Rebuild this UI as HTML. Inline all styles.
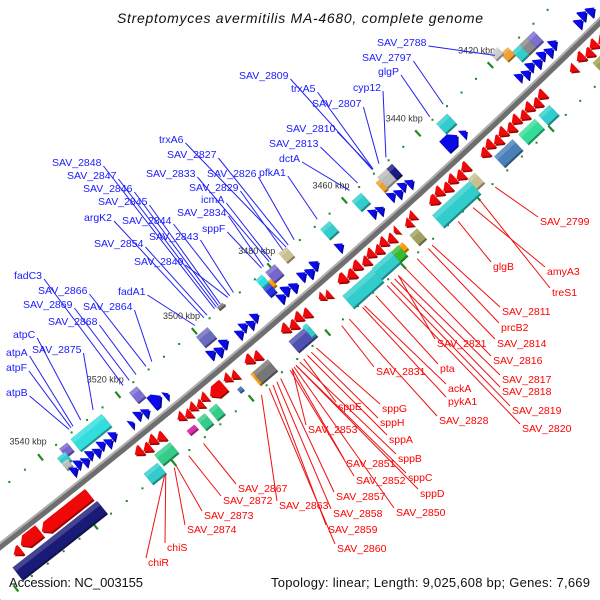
<!DOCTYPE html>
<html><head><meta charset="utf-8"><style>
html,body{margin:0;padding:0;background:#fff;}
svg{display:block;font-family:"Liberation Sans",sans-serif;}
</style></head><body>
<svg id="map" width="600" height="600" viewBox="0 0 600 600" xmlns="http://www.w3.org/2000/svg">
<rect width="600" height="600" fill="#fff"/>
<text x="300" y="23" text-anchor="middle" font-size="14" font-style="italic" fill="#111" textLength="366">Streptomyces avermitilis MA-4680, complete genome</text>
<g id="g-backbone"></g>
<g id="g-ticks"></g>
<g id="g-feat"></g>
<g id="g-lab"></g>
<text x="9" y="587" font-size="13" fill="#111" textLength="134">Accession: NC_003155</text>
<text x="590" y="587" text-anchor="end" font-size="13" fill="#111" textLength="319">Topology: linear; Length: 9,025,608 bp; Genes: 7,669</text>
</svg>
<script>
// ---- data (kbp) ----
const kbpTicks = [3420,3440,3460,3480,3500,3520,3540];
const blueArrowStart = [3397,3398.7,3400.4,3407,3408.6,3410.2,3411.8,3413.4,3415,3416.6,3432.5,3434.5,3447,3448.5,3450,3451.5,3455,3456.5,3466,3472,3473.7,3475.4,3478,3479.7,3481.4,3488,3489.5,3491,3492.5,3496,3497.7,3499.4,3512,3513.5,3517,3518.5,3521,3525,3526.5,3528,3529.5,3531,3532.5,3534,3535.5];
const blueArrowEnd   = [3398.7,3400.4,3402,3408.6,3410.2,3411.8,3413.4,3415,3416.6,3418,3433.8,3438,3448.5,3450,3451.5,3453,3456.5,3458,3467.5,3473.7,3475.4,3477,3479.7,3481.4,3483,3489.5,3491,3492.5,3494,3497.7,3499.4,3501,3513,3516,3518.5,3520,3522,3526.5,3528,3529.5,3531,3532.5,3534,3535.5,3537];
const redArrowStart = [3398,3399.8,3401.6,3403.4,3405.2,3408,3416,3417.8,3419.6,3421.4,3423.2,3425,3426.8,3428.6,3430.4,3432.2,3437,3438.8,3440.6,3442.4,3444.2,3446,3451.5,3453,3456,3457.5,3459.2,3460.9,3462.6,3464.3,3466.2,3468.1,3470,3474.5,3475.8,3480,3481.75,3483.5,3485.25,3493,3494.7,3499,3500.5,3502.5,3506.5,3508,3509.5,3511,3512.5,3518,3519.75,3521.5,3523.25,3537,3549.3,3554.5];
const redArrowEnd   = [3399.8,3401.6,3403.4,3405.2,3407,3409.5,3417.8,3419.6,3421.4,3423.2,3425,3426.8,3428.6,3430.4,3432.2,3434,3438.8,3440.6,3442.4,3444.2,3446,3448,3453,3454.5,3457,3459.2,3460.9,3462.6,3464.3,3466,3468.1,3470,3472,3475.8,3477,3481.75,3483.5,3485.25,3487,3494.7,3496.5,3500.5,3502,3506,3508,3509.5,3511,3512.5,3514,3519.75,3521.5,3523.25,3525,3549,3554,3556.3];
const boxStart = [3409,3411,3413,3415,3416.5,3433,3448,3449.5,3452,3456.5,3465,3475,3479,3481.5,3482.3,3482.3,3492,3497.5,3516,3525,3534,3535.5,3536,
                  3402,3417,3421,3427,3437,3439,3453,3457,3458,3460,3465,3482,3482,3492.5,3496.5,3500,3506,3509,3512,3518,3522.5,3536.6,3549.4];
const boxEnd   = [3411,3413,3415,3417,3418.5,3436,3449.5,3452,3453,3459,3467.5,3477,3481.5,3482.3,3484,3484,3493.5,3500.5,3518,3533,3536,3537.5,3537.5,
                  3405,3420,3425.5,3432,3439,3449,3455,3458,3460,3465,3473,3487,3483,3497,3497,3501,3508,3511,3514,3522,3526,3549.4,3558];
const boxTrack = [-32,-32,-32,-40,-48,-32,-32,-32,-30,-32,-32,-42,-36,-30,-26,-38,-46,-32,-32,-32,-34,-28,-22,
                  32,32,32,32,30,34,32,30,32,32,34,32,30,32,32,30,32,32,30,32,40,33,33];
const boxColor = ['#7b6fd0','#8a8a8a','#33cccc','#f0a030','#cccccc','#33cccc','#1a1a80','#bbbbbb','#f0a030','#33cccc','#33cccc','#c8c090','#7766cc','#ff9900','#2233dd','#33dddd','#888888','#6a6abf','#7b6fd0','#33dddd','#7766cc','#33cccc','#bbbbbb',
                  '#a0a050','#33cccc','#33dd99','#4a80b8','#c8c090','#33cccc','#a0a060','#ff9900','#33bb33','#33cccc','#33cccc','#5050b0','#33cccc','#777777','#ff9900','#4a80b8','#33cc88','#33cc88','#dd33aa','#33cc88','#33cccc','#1a1a78','#1a1a78'];
const boxHeight = [13,13,13,10,8,13,14,14,12,13,13,12,13,8,10,10,3,13,13,15,10,10,8,
                   13,13,13,14,13,16,13,8,13,14,16,14,14,14,14,4,13,13,5,13,13,15,15];
const blueLabelText = ['SAV_2788','SAV_2797','glgP','SAV_2809','trxA5','cyp12','SAV_2807','SAV_2810','SAV_2813','dctA','pfkA1','SAV_2826','trxA6','SAV_2827','SAV_2833','SAV_2829','icmA','SAV_2834','sppF','SAV_2848','SAV_2847','SAV_2846','SAV_2845','argK2','SAV_2844','SAV_2843','SAV_2854','SAV_2849','fadC3','SAV_2866','fadA1','SAV_2869','SAV_2864','SAV_2868','atpC','SAV_2875','atpA','atpF','atpB'];
const blueLabelKbp  = [3418,3432.3,3436,3451.7,3451.5,3448,3449.9,3451.5,3455.7,3457.9,3466.6,3472.8,3475,3474.4,3479.5,3475.9,3479,3481,3481.5,3494,3493.5,3493,3492.5,3496.8,3490,3489,3496,3490.5,3518,3512,3499.2,3516.4,3510.5,3514.6,3529,3525.8,3531,3531.5,3532];
const redLabelText = ['SAV_2799','glgB','amyA3','treS1','SAV_2811','prcB2','SAV_2814','SAV_2821','SAV_2816','pta','SAV_2831','SAV_2817','ackA','SAV_2818','pykA1','SAV_2819','SAV_2828','SAV_2820','sppE','sppG','sppH','SAV_2853','sppA','SAV_2851','sppB','sppC','SAV_2852','sppD','SAV_2857','SAV_2863','SAV_2850','SAV_2858','SAV_2859','SAV_2860','SAV_2867','SAV_2872','SAV_2873','SAV_2874','chiS','chiR'];
const redLabelKbp  = [3436,3446,3442,3440,3453,3454,3457,3462,3460,3468,3477,3462,3471,3463,3471.5,3464,3475,3465,3487,3483.7,3485,3490,3486,3490,3488,3489,3490.5,3489,3493,3498,3489.5,3494,3495,3496,3513,3516.8,3520,3520.5,3522.7,3523];
// ---- layout (label text placement, px) ----
const blueLabelPos = [[377,42],[362,57],[378,71],[239,75],[291,88],[353,87],[312,103],[286,128],[269,143],[279,158],[259,172],[207,173],[159,139],[167,154],[146,173],[189,187],[201,199],[177,212],[202,228],[52,162],[67,175],[83,188],[98,201],[84,217],[122,220],[149,236],[94,243],[134,261],[14,275],[38,290],[118,291],[23,304],[83,306],[48,321],[13,334],[32,349],[6,352],[6,367],[6,392]];
const redLabelPos = [[540,221],[493,266],[547,271],[552,292],[502,311],[501,327],[497,343],[437,343],[493,360],[440,368],[376,371],[502,379],[448,388],[502,391],[448,401],[512,410],[439,420],[522,428],[338,406],[382,408],[380,422],[308,429],[389,439],[346,463],[398,458],[408,477],[356,480],[420,493],[336,496],[279,505],[396,512],[333,513],[328,529],[337,548],[238,488],[223,500],[204,515],[187,529],[167,547],[148,562]];

// ---- axis (circular arc) ----
const CX=-4069, CY=-4711, R=6647;
function phi(k){return (46.33+(k-3420)*0.04317)*Math.PI/180;}
function pt(k,v){const a=phi(k);return [CX+(R+v)*Math.cos(a), CY+(R+v)*Math.sin(a)];}
const NS='http://www.w3.org/2000/svg';
function mk(tag,attrs,parent){const e=document.createElementNS(NS,tag);for(const k in attrs)e.setAttribute(k,attrs[k]);parent.appendChild(e);return e;}
function ptsStr(a){return a.map(p=>p[0].toFixed(1)+','+p[1].toFixed(1)).join(' ');}
function shade(c,f){const n=parseInt(c.slice(1),16);let r=(n>>16)&255,g=(n>>8)&255,b=n&255;
  if(f<0){r*=1+f;g*=1+f;b*=1+f;}else{r+=(255-r)*f;g+=(255-g)*f;b+=(255-b)*f;}
  return 'rgb('+Math.round(r)+','+Math.round(g)+','+Math.round(b)+')';}

// backbone
const gb=document.getElementById('g-backbone');
function arcPath(k1,k2,v){let d='';for(let k=k1;k<=k2;k+=2){const p=pt(k,v);d+=(d?'L':'M')+p[0].toFixed(1)+','+p[1].toFixed(1);}return d;}
const bb=mk('path',{d:arcPath(3380,3572,1),stroke:'#6e6e6e','stroke-width':7,fill:'none'},gb);


const bh=mk('path',{d:arcPath(3380,3572,-1.5),stroke:'#b0b0b0','stroke-width':2,fill:'none'},gb);



// ticks / dots
const gt=document.getElementById('g-ticks');
for(let k=3396;k<=3564;k+=4){
  [-44,44].forEach(v=>{
    if(k%20===0){const a=pt(k,v-4),b=pt(k,v+4);
      const l=mk('line',{x1:a[0],y1:a[1],x2:b[0],y2:b[1],stroke:'#1e8a1e','stroke-width':2.2},gt);
      
      
    } else {const p=pt(k,v);
      const c=mk('rect',{x:p[0]-1,y:p[1]-1,width:2,height:2,fill:'#1e8a1e'},gt);
      
      }
  });
}
kbpTicks.forEach(k=>{const p=pt(k,-64);
  const t=mk('text',{x:p[0],y:p[1]+3,'text-anchor':'middle','font-size':9,fill:'#333'},gt);
  t.textContent=k+' kbp';
  
  });

// features
const gf=document.getElementById('g-feat');
function arrowPoly(k1,k2,v,h,dir){
  const len=k2-k1, head=Math.min(len,1.4);
  if(dir<0){ // tip at k1
    return [pt(k2,v-h/2),pt(k1+head,v-h/2),pt(k1,v),pt(k1+head,v+h/2),pt(k2,v+h/2)];
  } else {   // tip at k2
    return [pt(k1,v-h/2),pt(k2-head,v-h/2),pt(k2,v),pt(k2-head,v+h/2),pt(k1,v+h/2)];
  }
}
function drawArrow(k1,k2,v,h,dir,color,name){
  const g=mk('g',{},gf);
  
  
  const sh=arrowPoly(k1,k2,v,h,dir).map(p=>[p[0]+1.5,p[1]+1.5]);
  mk('polygon',{points:ptsStr(sh),fill:shade(color,-0.35)},g);
  mk('polygon',{points:ptsStr(arrowPoly(k1,k2,v,h,dir)),fill:color},g);
}
function drawBox(k1,k2,v,h,color,name){
  const g=mk('g',{},gf);
  
  
  const q=[pt(k1,v-h/2),pt(k2,v-h/2),pt(k2,v+h/2),pt(k1,v+h/2)];
  mk('polygon',{points:ptsStr(q.map(p=>[p[0]+1.5,p[1]+1.5])),fill:shade(color,-0.35)},g);
  mk('polygon',{points:ptsStr(q),fill:color},g);
  if(h>6){const q2=[pt(k1,v-h/2),pt(k2,v-h/2),pt(k2,v-h/6),pt(k1,v-h/6)];
    mk('polygon',{points:ptsStr(q2),fill:shade(color,0.18)},g);}
}
for(let i=0;i<boxStart.length;i++) drawBox(boxStart[i],boxEnd[i],boxTrack[i],boxHeight[i],boxColor[i],'gene-box');
for(let i=0;i<blueArrowStart.length;i++){
  const len=blueArrowEnd[i]-blueArrowStart[i];
  const h=len>2.2?15:11; const v=(i%2===0)?-13:-16;
  drawArrow(blueArrowStart[i],blueArrowEnd[i],v,h,-1,'#0a0ae6','forward-gene-arrow');
}
for(let i=0;i<redArrowStart.length;i++){
  const len=redArrowEnd[i]-redArrowStart[i];
  const h=len>5?13:(len>2.2?14:11); const v=(len>5)?15:((i%2===0)?13:16);
  drawArrow(redArrowStart[i],redArrowEnd[i],v,h,1,'#ee0808','reverse-gene-arrow');
}

// labels
const gl=document.getElementById('g-lab');
blueLabelText.forEach((s,i)=>{
  const [x,y]=blueLabelPos[i];
  const t=mk('text',{x:x,y:y+4,'font-size':10.5,fill:'#1a1aff'},gl);
  t.textContent=s;
  
  
  const w=t.getComputedTextLength();
  const p=pt(blueLabelKbp[i],-48);
  const l=mk('line',{x1:x+w+2,y1:y+4,x2:p[0],y2:p[1],stroke:'#2222ee','stroke-width':1},gl);
  
  
});
redLabelText.forEach((s,i)=>{
  const [x,y]=redLabelPos[i];
  const t=mk('text',{x:x,y:y+4,'font-size':10.5,fill:'#ff0000'},gl);
  t.textContent=s;
  
  
  const p=pt(redLabelKbp[i],48);
  const l=mk('line',{x1:x-2,y1:y-4,x2:p[0],y2:p[1],stroke:'#ee1111','stroke-width':1},gl);
  
  
});
</script>
</body></html>
